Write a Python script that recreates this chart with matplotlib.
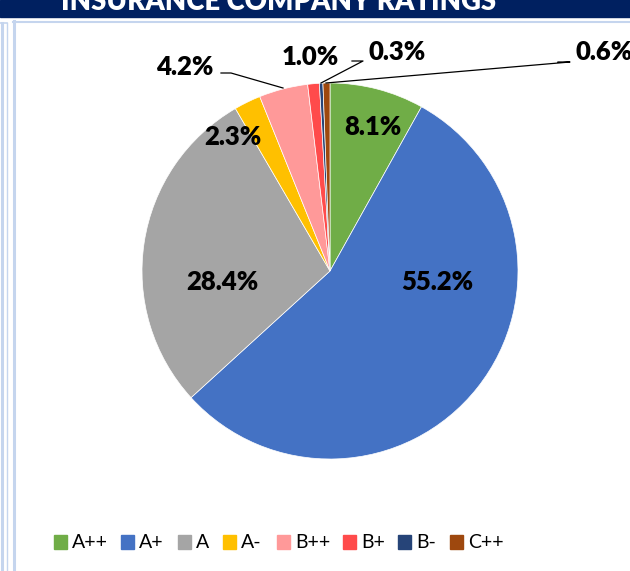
import matplotlib
matplotlib.use("Agg")
import matplotlib.pyplot as plt
from matplotlib.patches import Rectangle

categories = ["A++", "A+", "A", "A-", "B++", "B+", "B-", "C++"]
shares = [8.1, 55.2, 28.4, 2.3, 4.2, 1.0, 0.3, 0.6]
label_texts = ["8.1%", "55.2%", "28.4%", "2.3%", "4.2%", "1.0%", "0.3%", "0.6%"]
colors = ["#70AD47", "#4472C4", "#A5A5A5", "#FFC000", "#FF9999", "#FF4B4B", "#264478", "#9E480E"]
title = "INSURANCE COMPANY RATINGS"

W, H = 630, 571
fig = plt.figure(figsize=(W / 100, H / 100), dpi=100)
ax = fig.add_axes([0, 0, 1, 1])

def Y(y):
    return H - y

font = "Lato"

# pie
cx, cy, r = 330, 271, 188
wedges, _ = ax.pie(shares, colors=colors, startangle=90, counterclock=False,
                   center=(cx, Y(cy)), radius=r,
                   wedgeprops=dict(edgecolor="white", linewidth=0.5))
for w in wedges:
    w.set_zorder(3)

ax.set_xlim(0, W)
ax.set_ylim(0, H)
ax.set_aspect("auto")
ax.axis("off")

# header banner
ax.add_patch(Rectangle((0, Y(17)), W, 17, color="#002060", zorder=1))
ax.text(279, Y(10), title, color="white", fontsize=19.8, fontweight="heavy",
        ha="center", va="baseline", family=font, zorder=2)

# frame lines
fc = "#C5D5EE"
ax.plot([1.5, 1.5], [Y(23), 0], color=fc, lw=2.2, zorder=1)
ax.plot([0, 7], [Y(23), Y(23)], color=fc, lw=1.2, zorder=1)
ax.plot([6.5, 6.5], [Y(23), 0], color=fc, lw=1.0, zorder=1)
ax.plot([14, 14], [Y(21), 0], color=fc, lw=2.2, zorder=1)
ax.plot([13, W], [Y(21.5), Y(21.5)], color=fc, lw=1.5, zorder=1)

# labels
label_pos = [(373, 127), (437, 282), (222, 282), (233, 137), (185, 67), (310, 57), (397, 52), (575, 52)]
label_ha = ["center"] * 7 + ["left"]
for (x, y), t, ha in zip(label_pos, label_texts, label_ha):
    ax.text(x, Y(y), t, fontsize=18.5, fontweight="heavy", ha=ha, va="center",
            family=font, color="black", zorder=5)

# leader lines
leaders = [
    [(221, 73), (231, 73), (283, 88)],
    [(352, 61), (363, 61), (321, 83)],
    [(558, 62), (570, 62), (326, 83)],
]
for pts in leaders:
    ax.plot([p[0] for p in pts], [Y(p[1]) for p in pts], color="black", lw=0.9, zorder=4)

# legend
leg_sq_x = [54, 121, 178, 223, 277, 343, 398, 450]
for x, c, name in zip(leg_sq_x, colors, categories):
    ax.add_patch(Rectangle((x, Y(549)), 13, 14, color=c, zorder=3))
    ax.text(x + 18, Y(542), name, fontsize=14, ha="left", va="center",
            family=font, color="black", zorder=3)

fig.savefig("out.png", dpi=100)
